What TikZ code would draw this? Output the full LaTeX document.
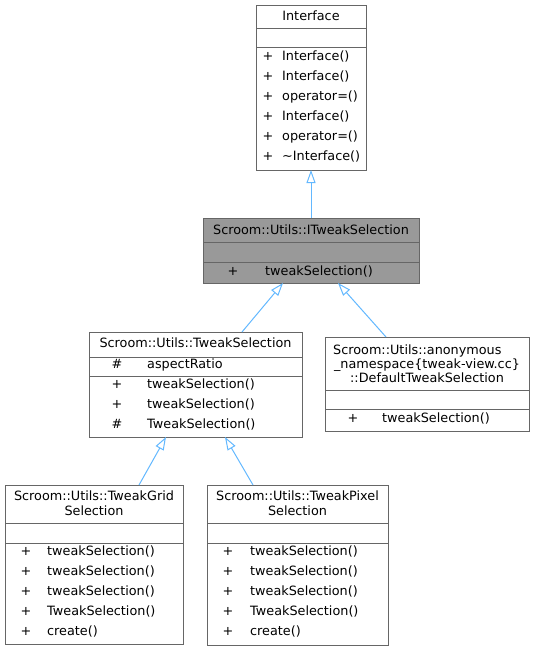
\documentclass[tikz,border=0pt]{standalone}
\usepackage{fontspec}
\usepackage{tikz}
\usepackage{xcolor}
\setmainfont{DejaVu Sans}
\usetikzlibrary{arrows.meta}

\definecolor{edgeblue}{HTML}{63B8FF}
\definecolor{boxgray}{HTML}{666666}
\definecolor{curfill}{HTML}{999999}

\tikzset{
  cls/.style={draw=boxgray, line width=1pt, fill=white, inner sep=0pt, outer sep=0pt, anchor=north west},
  sepline/.style={draw=boxgray, line width=1pt},
  txt/.style={inner sep=0pt, text height=9.5pt, text depth=2.5pt, font=\fontsize{12.8}{15}\selectfont},
  inh/.style={draw=edgeblue, line width=1pt, -{Triangle[open, length=13pt, width=9pt]}},
}

\begin{document}
\begin{tikzpicture}[x=1pt, y=-1pt]
            \useasboundingbox (0,0) rectangle (535,651);

            % Interface
            \node[cls, minimum width=110pt, minimum height=165pt] (iface) at (256,5) {};
            \draw[sepline] (256,28) -- (366,28);
            \draw[sepline] (256,47) -- (366,47);
            \node[txt] (iface-title) at (311,16.5) {Interface};
            \foreach \r/\m in {57/Interface(), 77/Interface(), 97/operator=(), 117/Interface(), 137/operator=(), 157/\textasciitilde Interface()}
                {
                \node[txt] (iface-v\r) at (268,\r) {+};
                \node[txt, anchor=west] (iface-m\r) at (282,\r) {\m};
                }

            % ITweakSelection
            \node[cls, fill=curfill, minimum width=216pt, minimum height=65pt] (itws) at (203,218) {};
            \draw[sepline] (203,242) -- (419,242);
            \draw[sepline] (203,262) -- (419,262);
            \node[txt] (itws-title) at (311,231) {Scroom::Utils::ITweakSelection};
            \node[txt] (itws-v) at (233,272) {+};
            \node[txt, anchor=west] (itws-m) at (265,272) {tweakSelection()};

            % TweakSelection
            \node[cls, minimum width=213pt, minimum height=105pt] (tsel) at (89,332) {};
            \draw[sepline] (89,357) -- (302,357);
            \draw[sepline] (89,376) -- (302,376);
            \node[txt] (tsel-title) at (195.5,344) {Scroom::Utils::TweakSelection};
            \foreach \r/\v/\m in {365/\#/aspectRatio, 385/+/tweakSelection(), 405/+/tweakSelection(), 425/\#/TweakSelection()}
                {
                \node[txt] (tsel-v\r) at (117,\r) {\v};
                \node[txt, anchor=west] (tsel-m\r) at (147,\r) {\m};
                }

            % DefaultTweakSelection
            \node[cls, minimum width=204pt, minimum height=94pt] (dflt) at (325,337) {};
            \draw[sepline] (325,390) -- (529,390);
            \draw[sepline] (325,409) -- (529,409);
            \node[txt, anchor=west] (dflt-t1) at (333,351) {Scroom::Utils::anonymous};
            \node[txt] (dflt-t2) at (427,365) {\_namespace\{tweak-view.cc\}};
            \node[txt] (dflt-t3) at (427,379) {::DefaultTweakSelection};
            \node[txt] (dflt-v) at (353,419) {+};
            \node[txt, anchor=west] (dflt-m) at (382,419) {tweakSelection()};

            % TweakGridSelection
            \node[cls, minimum width=178pt, minimum height=159pt] (grid) at (5,485) {};
            \draw[sepline] (5,523) -- (183,523);
            \draw[sepline] (5,543) -- (183,543);
            \node[txt] (grid-t1) at (94,497) {Scroom::Utils::TweakGrid};
            \node[txt] (grid-t2) at (94,512) {Selection};

            % TweakPixelSelection
            \node[cls, minimum width=181pt, minimum height=160pt] (pixl) at (207,485) {};
            \draw[sepline] (207,523) -- (388,523);
            \draw[sepline] (207,543) -- (388,543);
            \node[txt] (pixl-t1) at (297.5,497) {Scroom::Utils::TweakPixel};
            \node[txt] (pixl-t2) at (297.5,512) {Selection};

            \foreach \r/\m in {552/tweakSelection(), 572/tweakSelection(), 592/tweakSelection(), 612/TweakSelection(), 632/create()}
                {
                \node[txt] (grid-v\r) at (26,\r) {+};
                \node[txt, anchor=west] (grid-m\r) at (47,\r) {\m};
                \node[txt] (pixl-v\r) at (228,\r) {+};
                \node[txt, anchor=west] (pixl-m\r) at (250,\r) {\m};
                }

            % inheritance
            \draw[inh] (itws.north) -- (iface.south);
            \draw[inh] ([xshift=46.5pt]tsel.north) -- ([xshift=-28pt]itws.south);
            \draw[inh] ([xshift=-41pt]dflt.north) -- ([xshift=27pt]itws.south);
            \draw[inh] ([xshift=45pt]grid.north) -- ([xshift=-29.5pt]tsel.south);
            \draw[inh] ([xshift=-44.5pt]pixl.north) -- ([xshift=29.5pt]tsel.south);
        \end{tikzpicture}
\end{document}
